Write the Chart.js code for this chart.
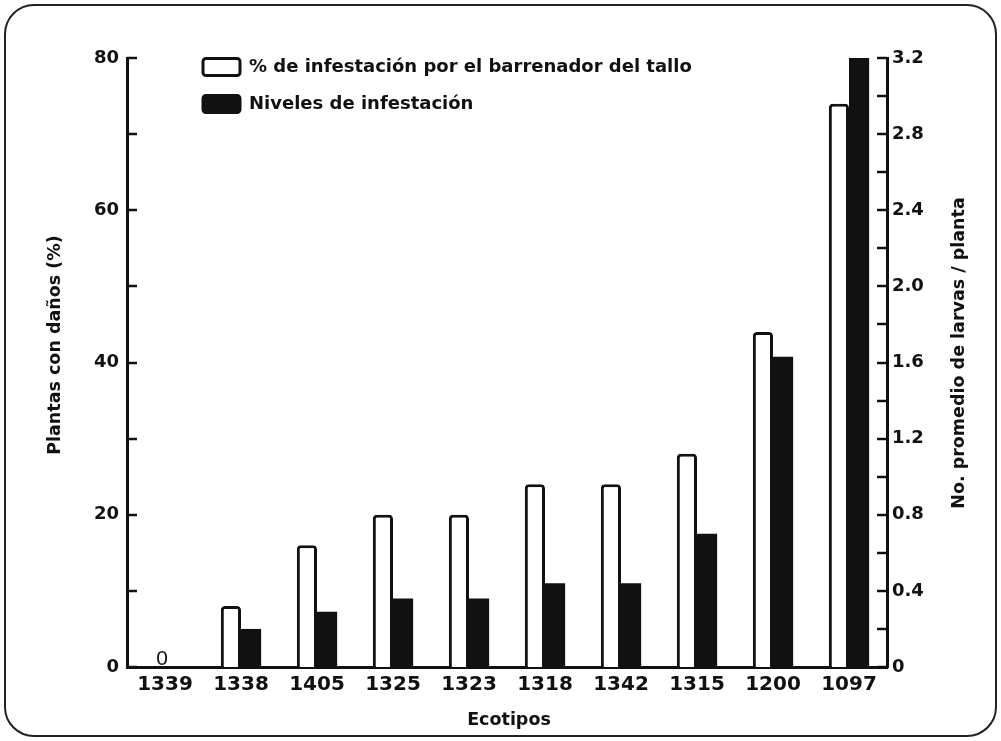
<!DOCTYPE html>
<html>
<head>
<meta charset="utf-8">
<script src="https://cdn.jsdelivr.net/npm/chart.js@4/dist/chart.umd.min.js"></script>
<style>
  html, body { margin: 0; padding: 0; background: #fff; }
  #wrap { position: relative; width: 1001px; height: 741px; }
  #frame {
    position: absolute; left: 4px; top: 4px; width: 989px; height: 729px;
    border: 2px solid #222; border-radius: 30px; pointer-events: none;
  }
</style>
</head>
<body>
<div id="wrap">
  <canvas id="chart" width="1001" height="741"></canvas>
  <div id="frame"></div>
</div>
<script>
const ecotipos = ["1339", "1338", "1405", "1325", "1323", "1318", "1342", "1315", "1200", "1097"];
const infestacion = [0, 8, 16, 20, 20, 24, 24, 28, 44, 74];
const larvas = [0, 0.2, 0.29, 0.36, 0.36, 0.44, 0.44, 0.7, 1.63, 3.2];
const leftLabels = [0, 20, 40, 60, 80];
const rightLabels = ["0", "0.4", "0.8", "1.2", "1.6", "2.0", "2.4", "2.8", "3.2"];

const ink = "#111";
const fontFam = "'DejaVu Sans', Verdana, sans-serif";

// inward tick marks, zero labels, axis titles, legend
const extras = {
  id: "extras",
  afterDraw(chart) {
    const ctx = chart.ctx;
    const a = chart.chartArea;
    const yl = chart.scales.y;
    const yr = chart.scales.y1;
    const x = chart.scales.x;
    ctx.save();
    ctx.strokeStyle = ink;
    ctx.lineWidth = 2.5;
    yl.ticks.forEach(t => {
      const py = Math.round(yl.getPixelForValue(t.value));
      ctx.beginPath(); ctx.moveTo(a.left, py); ctx.lineTo(a.left + 10, py); ctx.stroke();
    });
    yr.ticks.forEach(t => {
      const py = Math.round(yr.getPixelForValue(t.value));
      ctx.beginPath(); ctx.moveTo(a.right - 10, py); ctx.lineTo(a.right, py); ctx.stroke();
    });

    // "0" over bars with no infestation
    ctx.fillStyle = ink;
    ctx.font = "21px 'Liberation Sans', Arial, sans-serif";
    ctx.textAlign = "center";
    ctx.textBaseline = "bottom";
    infestacion.forEach((v, i) => {
      if (v === 0) ctx.fillText("0", x.getPixelForValue(i) - 3, yl.getPixelForValue(0) + 3);
    });

    // axis titles
    ctx.font = "bold 17.5px " + fontFam;
    ctx.textBaseline = "middle";
    ctx.fillText("Ecotipos", 509, 720);
    [[55, 345, "Plantas con daños (%)"], [959, 353, "No. promedio de larvas / planta"]].forEach(([px, py, txt]) => {
      ctx.save();
      ctx.translate(px, py);
      ctx.rotate(-Math.PI / 2);
      ctx.fillText(txt, 0, 0);
      ctx.restore();
    });

    // legend
    ctx.textAlign = "left";
    ctx.font = "bold 18px " + fontFam;
    chart.data.datasets.forEach((ds, i) => {
      const by = 58 + i * 37;
      ctx.beginPath();
      ctx.roundRect(203, by + 0.5, 37, 17, 3);
      ctx.fillStyle = ds.backgroundColor;
      ctx.fill();
      ctx.lineWidth = 3;
      ctx.strokeStyle = ink;
      ctx.stroke();
      ctx.fillStyle = ink;
      ctx.fillText(ds.label, 249, by + 9);
    });
    ctx.restore();
  }
};

new Chart(document.getElementById("chart"), {
  type: "bar",
  data: {
    labels: ecotipos,
    datasets: [
      {
        label: "% de infestación por el barrenador del tallo",
        data: infestacion,
        yAxisID: "y",
        backgroundColor: "#ffffff",
        borderColor: ink,
        borderWidth: 3,
        borderRadius: { topLeft: 4, topRight: 4 },
        borderSkipped: "bottom"
      },
      {
        label: "Niveles de infestación",
        data: larvas,
        yAxisID: "y1",
        backgroundColor: ink,
        borderWidth: 0
      }
    ]
  },
  options: {
    responsive: false,
    animation: false,
    layout: { padding: { top: 58, left: 0, right: 0, bottom: 0 } },
    datasets: { bar: { categoryPercentage: 0.53, barPercentage: 1 } },
    plugins: { legend: { display: false }, tooltip: { enabled: false } },
    scales: {
      x: {
        grid: { display: false, drawTicks: false },
        border: { color: ink, width: 3 },
        ticks: { color: ink, font: { family: fontFam, size: 20, weight: "bold" }, padding: 6, maxRotation: 0 },
        afterFit: s => { s.height = 74; }
      },
      y: {
        position: "left",
        min: 0, max: 80,
        grid: { display: false, drawTicks: false },
        border: { color: ink, width: 3 },
        ticks: {
          stepSize: 10, color: ink, padding: 8,
          font: { family: fontFam, size: 18, weight: "bold" },
          callback: v => leftLabels.includes(v) ? String(v) : ""
        },
        afterFit: s => { s.width = 127; }
      },
      y1: {
        position: "right",
        min: 0, max: 3.2,
        grid: { display: false, drawTicks: false },
        border: { color: ink, width: 3 },
        ticks: {
          stepSize: 0.2, color: ink, padding: 5,
          font: { family: fontFam, size: 18, weight: "bold" },
          callback: v => {
            const s = Math.round(v * 10) === 0 ? "0" : (Math.round(v * 10) / 10).toFixed(1);
            return rightLabels.includes(s) ? s : "";
          }
        },
        afterFit: s => { s.width = 114; }
      }
    }
  },
  plugins: [extras]
});
</script>
</body>
</html>
